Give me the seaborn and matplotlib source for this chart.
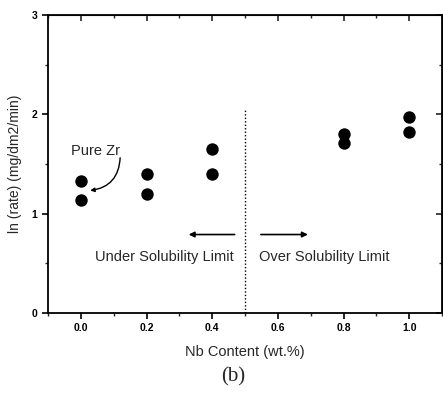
import matplotlib
matplotlib.use("Agg")
import matplotlib.pyplot as plt
import seaborn as sns
import pandas as pd
from matplotlib.ticker import MultipleLocator

# Nb content (wt.%) and ln(rate)
nb_content = [0.0, 0.0, 0.2, 0.2, 0.4, 0.4, 0.8, 0.8, 1.0, 1.0]
ln_rate = [1.33, 1.14, 1.40, 1.20, 1.65, 1.40, 1.80, 1.71, 1.97, 1.82]

x_ticks = [0.0, 0.2, 0.4, 0.6, 0.8, 1.0]
y_ticks = [0, 1, 2, 3]
solubility_limit = 0.5

df = pd.DataFrame({"nb": nb_content, "rate": ln_rate})

sns.set_style("ticks")
plt.rcParams["font.family"] = ["Liberation Sans", "DejaVu Sans"]

fig = plt.figure(figsize=(4.43, 4.0), dpi=100)
ax = fig.add_axes([48 / 443, 1 - 313 / 400, 394 / 443, 298 / 400])

sns.scatterplot(data=df, x="nb", y="rate", ax=ax, color="black",
                s=80, edgecolor="black", linewidth=0, legend=False)

ax.set_xlim(-0.1, 1.1)
ax.set_ylim(0, 3)
ax.set_xticks(x_ticks)
ax.set_xticklabels([f"{v:.1f}" for v in x_ticks])
ax.set_yticks(y_ticks)
ax.xaxis.set_minor_locator(MultipleLocator(0.1))
ax.yaxis.set_minor_locator(MultipleLocator(0.5))

for side in ["top", "right", "left", "bottom"]:
    ax.spines[side].set_visible(True)
    ax.spines[side].set_linewidth(1.3)
    ax.spines[side].set_color("black")

# bottom / left ticks point out
ax.tick_params(axis="both", which="major", labelsize=7.5, length=4, width=1.2,
               colors="black", direction="out")
ax.tick_params(axis="both", which="minor", length=2.5, width=1,
               direction="out")
for lab in ax.get_xticklabels() + ax.get_yticklabels():
    lab.set_fontweight("bold")

# top / right ticks point in
top = ax.secondary_xaxis("top")
top.set_xticks(x_ticks)
top.xaxis.set_minor_locator(MultipleLocator(0.1))
top.tick_params(which="major", direction="in", length=4, width=1.2,
                labeltop=False)
top.tick_params(which="minor", direction="in", length=2.5, width=1)
right = ax.secondary_yaxis("right")
right.set_yticks(y_ticks)
right.yaxis.set_minor_locator(MultipleLocator(0.5))
right.tick_params(which="major", direction="in", length=4, width=1.2,
                  labelright=False)
right.tick_params(which="minor", direction="in", length=2.5, width=1)

ax.set_xlabel("Nb Content (wt.%)", fontsize=10.5, labelpad=8)
ax.set_ylabel("ln (rate) (mg/dm2/min)", fontsize=10, labelpad=7)

# solubility limit marker
ax.plot([solubility_limit, solubility_limit], [0, 2.04], color="black",
        linestyle=(0, (1, 1.5)), linewidth=1)

ax.annotate("", xy=(0.32, 0.79), xytext=(0.477, 0.79),
            arrowprops=dict(arrowstyle="-|>", color="black", lw=1.2,
                            mutation_scale=8))
ax.annotate("", xy=(0.70, 0.79), xytext=(0.54, 0.79),
            arrowprops=dict(arrowstyle="-|>", color="black", lw=1.2,
                            mutation_scale=8))
ax.text(0.255, 0.56, "Under Solubility Limit", ha="center", va="center",
        fontsize=10.5)
ax.text(0.74, 0.56, "Over Solubility Limit", ha="center", va="center",
        fontsize=10.5)

ax.text(0.045, 1.63, "Pure Zr", ha="center", va="center", fontsize=10.5)
ax.annotate("", xy=(0.02, 1.23), xytext=(0.12, 1.59),
            arrowprops=dict(arrowstyle="-|>", color="black", lw=1,
                            mutation_scale=6,
                            connectionstyle="arc3,rad=-0.45"))

fig.text(233 / 443, 1 - 377 / 400, "(b)", ha="center", va="center",
         fontsize=15, family=["Liberation Serif", "DejaVu Serif"])

fig.savefig("out.png", dpi=100)
